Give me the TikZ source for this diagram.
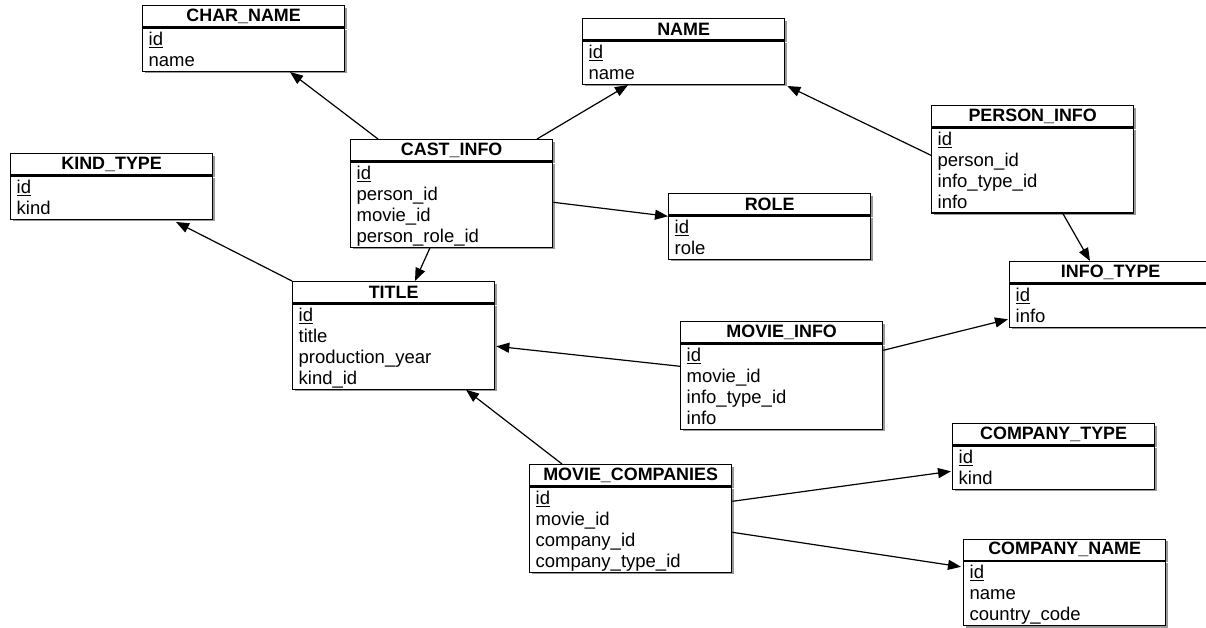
\documentclass[tikz,border=0pt]{standalone}
\usepackage{fontspec}
\setmainfont{Liberation Sans}
\usepackage{tikz}
\usetikzlibrary{arrows.meta, positioning, shadows}

\begin{document}
\begin{tikzpicture}[
    x=1pt, y=-1pt,
    font=\fontsize{18.5}{20.9}\selectfont,
    tblhead/.style={rectangle, draw=black, fill=white, line width=1.3pt, minimum width=202pt, minimum height=21pt, inner sep=0pt, anchor=north west, font=\fontsize{17.9}{21}\selectfont\bfseries, drop shadow={shadow xshift=2pt, shadow yshift=-2pt, opacity=.4, fill=black}},
    tblbody/.style={rectangle, draw=black, fill=white, line width=1.3pt, text width=190pt, inner xsep=6pt, inner ysep=0pt, align=left,
        execute at begin node={\rule[-3pt]{0pt}{20.5pt}}, execute at end node={\rule[-5pt]{0pt}{19pt}},
        drop shadow={shadow xshift=2pt, shadow yshift=-2pt, opacity=.4, fill=black}},
    fk/.style={-{Triangle[length=13pt, width=10pt]}, line width=1.2pt, draw=black}
]
\useasboundingbox (0,0) rectangle (1206,628);
\clip (0,0) rectangle (1206,628);

% tables
\node[tblhead] (charname) at (142,5) {CHAR\_NAME};
\node[tblbody, below=0pt of charname] (charname-b) {\underline{id}\\name};

\node[tblhead] (name) at (582,18) {NAME};
\node[tblbody, below=0pt of name] (name-b) {\underline{id}\\name};

\node[tblhead] (personinfo) at (931,105) {PERSON\_INFO};
\node[tblbody, below=0pt of personinfo] (personinfo-b) {\underline{id}\\person\_id\\info\_type\_id\\info};

\node[tblhead] (kindtype) at (10,153) {KIND\_TYPE};
\node[tblbody, below=0pt of kindtype] (kindtype-b) {\underline{id}\\kind};

\node[tblhead] (castinfo) at (350,139) {CAST\_INFO};
\node[tblbody, below=0pt of castinfo] (castinfo-b) {\underline{id}\\person\_id\\movie\_id\\person\_role\_id};

\node[tblhead] (role) at (668,193) {ROLE};
\node[tblbody, below=0pt of role] (role-b) {\underline{id}\\role};

\node[tblhead] (infotype) at (1009,261) {INFO\_TYPE};
\node[tblbody, below=0pt of infotype] (infotype-b) {\underline{id}\\info};

\node[tblhead] (title) at (292,281) {TITLE};
\node[tblbody, below=0pt of title] (title-b) {\underline{id}\\title\\production\_year\\kind\_id};

\node[tblhead] (movieinfo) at (680,321) {MOVIE\_INFO};
\node[tblbody, below=0pt of movieinfo] (movieinfo-b) {\underline{id}\\movie\_id\\info\_type\_id\\info};

\node[tblhead] (companytype) at (952,423) {COMPANY\_TYPE};
\node[tblbody, below=0pt of companytype] (companytype-b) {\underline{id}\\kind};

\node[tblhead] (moviecompanies) at (529,464) {MOVIE\_COMPANIES};
\node[tblbody, below=0pt of moviecompanies] (moviecompanies-b) {\underline{id}\\movie\_id\\company\_id\\company\_type\_id};

\node[tblhead] (companyname) at (963,538.5) {COMPANY\_NAME};
\node[tblbody, below=0pt of companyname] (companyname-b) {\underline{id}\\name\\country\_code};

% foreign keys
\draw[fk] ([xshift=28pt]castinfo.north west) -- ([xshift=148pt]charname-b.south west);
\draw[fk] ([xshift=187pt]castinfo.north west) -- ([xshift=46pt]name-b.south west);
\draw[fk] ([yshift=-28pt]personinfo-b.north west) -- ([xshift=2pt, yshift=-1pt]name-b.south east);
\draw[fk] ([yshift=-41pt]castinfo-b.north east) -- ([yshift=-1pt]role.south west);
\draw[fk] ([xshift=80pt]castinfo-b.south west) -- ([xshift=123pt]title.north west);
\draw[fk] (title.north west) -- ([xshift=166pt, yshift=-2pt]kindtype-b.south west);
\draw[fk] ([yshift=-23pt]movieinfo-b.north west) -- ([xshift=1pt, yshift=-43pt]title-b.north east);
\draw[fk] ([yshift=-7pt]movieinfo-b.north east) -- ([xshift=-1pt, yshift=-36pt]infotype-b.north west);
\draw[fk] ([xshift=132pt]personinfo-b.south west) -- ([xshift=81pt]infotype.north west);
\draw[fk] ([xshift=33pt]moviecompanies.north west) -- ([xshift=174pt]title-b.south west);
\draw[fk] ([yshift=-15pt]moviecompanies-b.north east) -- ([xshift=-1pt, yshift=-26pt]companytype-b.north west);
\draw[fk] ([yshift=-46pt]moviecompanies-b.north east) -- ([xshift=-2pt, yshift=-6pt]companyname-b.north west);
\end{tikzpicture}
\end{document}
